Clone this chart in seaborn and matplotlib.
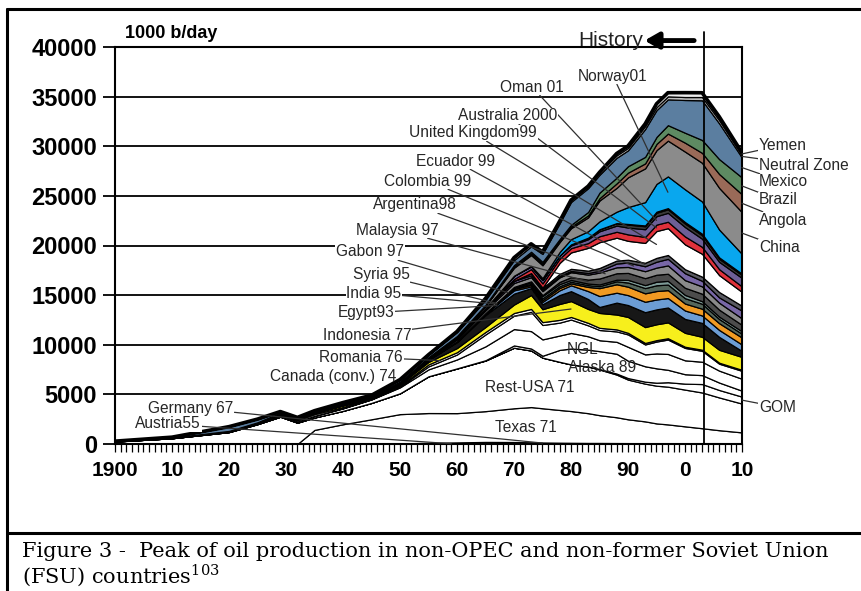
import numpy as np
import matplotlib
matplotlib.use("Agg")
import matplotlib.pyplot as plt
from matplotlib.lines import Line2D
import seaborn as sns

sns.set_theme(style="ticks")
plt.rcParams['font.family'] = ['Liberation Sans', 'DejaVu Sans']
plt.rcParams['mathtext.fontset'] = 'custom'
plt.rcParams['mathtext.rm'] = 'DejaVu Serif'

W, H = 861, 591
HISTORY_END = 2003.3

years = [1900, 1910, 1920, 1925, 1929, 1932, 1935, 1940, 1945, 1950, 1955, 1960, 1965, 1970,
         1973, 1975, 1978, 1980, 1983, 1985, 1988, 1990, 1993, 1995, 1997, 2000, 2003, 2006, 2010]

# 1000 b/day per producer, bottom of the stack first
austria = [0, 0, 0, 0, 0, 0, 10, 20, 20, 30, 60, 50, 50, 50, 40, 40, 30, 30, 25, 25, 20, 20, 20, 20, 20, 20, 20, 20, 20]
germany = [0, 0, 0, 0, 0, 0, 10, 20, 20, 30, 60, 110, 160, 150, 130, 110, 100, 90, 80, 80, 75, 70, 60, 55, 55, 60, 70, 70, 50]
texas = [0, 0, 0, 0, 0, 0, 1400, 1950, 2450, 2950, 3000, 2950, 3100, 3400, 3550, 3450, 3300, 3200, 3000, 2800, 2600, 2400, 2200, 2000, 1900, 1700, 1500, 1300, 1100]
rest_usa = [250, 580, 1200, 2000, 2750, 2150, 1250, 1350, 1650, 2100, 3700, 4500, 5100, 6100, 5700, 5100, 4850, 4700, 4700, 4600, 4300, 4000, 3800, 3800, 3800, 3700, 3600, 3300, 2900]
gom = [0, 0, 0, 0, 0, 0, 0, 0, 0, 0, 0, 0, 0, 0, 0, 0, 0, 0, 0, 50, 100, 150, 200, 300, 450, 600, 850, 750, 700]
alaska = [0, 0, 0, 0, 0, 0, 0, 0, 0, 0, 0, 10, 30, 230, 200, 190, 1200, 1600, 1700, 1800, 2000, 1750, 1550, 1450, 1250, 950, 900, 750, 600]
ngl = [0, 0, 30, 50, 100, 100, 150, 250, 350, 600, 700, 900, 1400, 1650, 1750, 1650, 1450, 1570, 1350, 1100, 1200, 1400, 1200, 1500, 1600, 1400, 1350, 1200, 1200]
canada = [2, 5, 5, 5, 10, 10, 20, 20, 20, 80, 300, 500, 1200, 1350, 1950, 1450, 1300, 1350, 1100, 1030, 1050, 1250, 1000, 1200, 1450, 1250, 1100, 700, 800]
romania = [20, 30, 20, 50, 100, 140, 170, 120, 90, 100, 200, 230, 250, 270, 290, 290, 280, 260, 250, 220, 200, 160, 150, 140, 130, 120, 110, 100, 100]
indonesia = [15, 30, 50, 60, 100, 100, 130, 170, 30, 130, 250, 420, 500, 850, 1400, 1300, 1600, 1600, 1400, 1500, 1500, 1600, 1600, 1600, 1600, 1400, 1300, 1300, 1300]
others_dark = [0, 0, 0, 0, 0, 0, 0, 0, 0, 50, 200, 600, 1200, 1100, 700, 500, 900, 1000, 1000, 600, 1200, 1200, 1500, 1500, 1500, 1400, 1400, 1300, 600]
egypt = [0, 0, 3, 3, 5, 5, 4, 20, 30, 45, 35, 60, 120, 330, 170, 240, 480, 590, 800, 1100, 1000, 1000, 1050, 1000, 950, 850, 750, 700, 650]
india = [0, 10, 6, 6, 6, 5, 6, 6, 6, 6, 8, 10, 60, 140, 150, 170, 230, 190, 420, 800, 850, 850, 850, 850, 800, 700, 680, 680, 700]
syria = [0, 0, 0, 0, 0, 0, 0, 0, 0, 0, 0, 0, 0, 80, 110, 190, 180, 170, 180, 200, 300, 420, 530, 580, 560, 540, 500, 420, 380]
gabon = [0, 0, 0, 0, 0, 0, 0, 0, 0, 0, 0, 15, 25, 110, 150, 220, 210, 180, 160, 170, 160, 270, 300, 360, 370, 330, 260, 240, 250]
malaysia = [0, 0, 0, 0, 0, 0, 0, 0, 0, 0, 0, 0, 0, 20, 100, 100, 220, 280, 400, 600, 650, 700, 700, 700, 720, 720, 750, 700, 650]
argentina = [0, 0, 5, 15, 25, 35, 40, 55, 65, 70, 90, 180, 270, 390, 420, 400, 460, 500, 500, 600, 600, 600, 700, 720, 840, 770, 740, 700, 650]
colombia = [0, 0, 0, 0, 55, 45, 50, 70, 60, 95, 110, 155, 200, 220, 190, 160, 140, 130, 160, 180, 380, 440, 500, 590, 660, 700, 560, 540, 780]
ecuador = [0, 0, 0, 0, 0, 0, 5, 5, 5, 5, 10, 8, 8, 5, 210, 160, 210, 210, 240, 280, 300, 290, 350, 390, 390, 400, 420, 540, 490]
uk = [0, 0, 0, 0, 0, 0, 0, 0, 0, 0, 0, 0, 0, 0, 10, 30, 1100, 1650, 2300, 2600, 2300, 1900, 2000, 2700, 2700, 2500, 2300, 1700, 1400]
australia = [0, 0, 0, 0, 0, 0, 0, 0, 0, 0, 0, 0, 10, 180, 400, 430, 440, 430, 480, 600, 600, 650, 600, 650, 650, 800, 700, 600, 550]
oman = [0, 0, 0, 0, 0, 0, 0, 0, 0, 0, 0, 0, 0, 330, 290, 340, 310, 280, 390, 500, 620, 690, 780, 850, 900, 950, 820, 740, 860]
others_mid = [0, 0, 0, 0, 0, 0, 0, 0, 0, 0, 0, 0, 0, 0, 0, 0, 0, 100, 150, 200, 250, 300, 300, 350, 350, 350, 350, 300, 300]
others_yel = [0, 0, 0, 0, 0, 0, 0, 0, 0, 0, 0, 0, 0, 0, 0, 0, 0, 0, 0, 0, 0, 60, 80, 100, 120, 150, 150, 150, 120]
norway = [0, 0, 0, 0, 0, 0, 0, 0, 0, 0, 0, 0, 0, 0, 30, 190, 350, 530, 650, 800, 1150, 1700, 2350, 2800, 3200, 3300, 3250, 2800, 2000]
china = [0, 0, 0, 0, 0, 0, 0, 0, 0, 0, 20, 100, 230, 800, 1100, 1300, 1000, 1100, 1400, 2100, 2400, 3000, 3400, 3400, 3600, 3800, 3900, 4200, 4200]
angola = [0, 0, 0, 0, 0, 0, 0, 0, 0, 0, 0, 1, 13, 100, 160, 160, 130, 150, 200, 230, 450, 470, 500, 630, 710, 900, 1000, 1400, 1800]
brazil = [0, 0, 0, 0, 0, 0, 0, 0, 0, 1, 6, 80, 95, 170, 170, 180, 170, 190, 340, 560, 580, 650, 660, 700, 850, 1000, 1300, 1500, 1700]
mexico = [0, 35, 430, 320, 120, 90, 110, 120, 120, 200, 250, 400, 500, 500, 550, 800, 1600, 2300, 2400, 1800, 2000, 1600, 2800, 2700, 2600, 3300, 4000, 3600, 2000]
neutral_zone = [0, 0, 0, 0, 0, 0, 0, 0, 0, 0, 0, 60, 150, 250, 250, 200, 200, 200, 200, 250, 250, 250, 300, 300, 300, 300, 330, 330, 250]
yemen = [0, 0, 0, 0, 0, 0, 0, 0, 0, 0, 0, 0, 0, 0, 0, 0, 0, 0, 0, 0, 180, 190, 220, 340, 370, 440, 430, 360, 250]

stack = [
    (austria, '#27356a'), (germany, '#1c2656'), (texas, 'white'), (rest_usa, 'white'),
    (gom, 'white'), (alaska, 'white'), (ngl, 'white'), (canada, 'white'), (romania, 'white'),
    (indonesia, '#f7ef1c'), (others_dark, '#171717'), (egypt, '#6c9dd4'), (india, '#f09a22'),
    (syria, '#55675b'), (gabon, '#7d9a96'), (malaysia, '#4c4c4c'), (argentina, '#8a8a8a'),
    (colombia, '#7867a6'), (ecuador, '#5a5a62'), (uk, 'white'), (australia, '#e0313b'),
    (oman, '#6d5f96'), (others_mid, '#3a3a3a'), (others_yel, '#e6d21c'), (norway, '#09a7ee'),
    (china, '#8b8b8b'), (angola, '#9a6a58'), (brazil, '#5e8a62'), (mexico, '#5b7ea0'),
    (neutral_zone, '#bdbdbd'), (yemen, '#ededed'),
]
values = np.array([s[0] for s in stack], dtype=float)
cum = np.cumsum(values, axis=0)
total = cum[-1]


def layer_mid(series, year):
    i = next(k for k, s in enumerate(stack) if s[0] is series)
    return np.interp(year, years, cum[i] - values[i] / 2)


fig = plt.figure(figsize=(W / 100, H / 100), dpi=100)
ax = fig.add_axes([115 / W, 1 - 444 / H, (742 - 115) / W, (444 - 47) / H])

ax.stackplot(years, values, colors=[s[1] for s in stack], edgecolor='black',
             linewidth=0.9, zorder=2)
sns.lineplot(x=years, y=total, color='black', lw=2.6, ax=ax, zorder=3)

ax.set_xlim(1900, 2010)
ax.set_ylim(0, 40000)
ax.set_axisbelow(True)
ax.yaxis.grid(True, color='black', lw=1.3)
ax.set_yticks(range(0, 40001, 5000))
ax.set_yticklabels([str(v) for v in range(0, 40001, 5000)], fontsize=17, fontweight='bold')
ax.set_xticks(range(1900, 2011, 10))
ax.set_xticklabels(['1900', '10', '20', '30', '40', '50', '60', '70', '80', '90', '0', '10'],
                   fontsize=15, fontweight='bold')
ax.set_xticks(range(1900, 2011), minor=True)
ax.tick_params(axis='y', length=9, width=1.3, color='black', pad=4, labelcolor='black')
ax.tick_params(axis='x', which='both', length=6, width=0.9, color='black', pad=6,
               labelcolor='black')
for sp in ax.spines.values():
    sp.set_color('black')
    sp.set_linewidth(1.5)
    sp.set_visible(True)

# history marker
ax.axvline(HISTORY_END, ymin=0, ymax=41500 / 40000, color='black', lw=1.3, clip_on=False, zorder=4)
ax.annotate('', xy=(1992.9, 40650), xytext=(2001.6, 40650), annotation_clip=False,
            arrowprops=dict(arrowstyle='-|>,head_length=0.7,head_width=0.4', lw=3.5,
                            color='black', shrinkA=0, shrinkB=0))
ax.text(1992.6, 40650, 'History', ha='right', va='center', fontsize=15, color='#222222')

label_font = dict(fontsize=11.2, color='#262626')
leader = dict(arrowstyle='-', color='#303030', lw=0.9, shrinkA=0, shrinkB=0)
box = dict(boxstyle='square,pad=0.05', fc='white', ec='none')

left_labels = [
    ('Norway01', norway, 1997, 613, 76),
    ('Oman 01', oman, 1995, 532, 87),
    ('Australia 2000', australia, 1995, 508, 116),
    ('United Kingdom99', uk, 1995, 473, 133),
    ('Ecuador 99', ecuador, 1993, 455, 161),
    ('Colombia 99', colombia, 1991, 428, 181),
    ('Argentina98', argentina, 1986, 415, 205),
    ('Malaysia 97', malaysia, 1983, 397, 230),
    ('Gabon 97', gabon, 1969, 370, 252),
    ('Syria 95', syria, 1967, 381, 275),
    ('India 95', india, 1967, 374, 293),
    ('Egypt93', egypt, 1967, 366, 313),
    ('Indonesia 77', indonesia, 1980, 367, 335),
    ('Romania 76', romania, 1957, 361, 357),
    ('Germany 67', germany, 1975, 191, 408),
    ('Austria55', austria, 1959, 168, 424),
]
for text, series, yr, px, py in left_labels:
    ax.annotate(text, xy=(yr, layer_mid(series, yr)), xytext=(px, H - py),
                textcoords='figure pixels', ha='center', va='center', bbox=box,
                arrowprops=leader, annotation_clip=False, zorder=6, **label_font)

right_labels = [
    ('Yemen', yemen, 145), ('Neutral Zone', neutral_zone, 165), ('Mexico', mexico, 182),
    ('Brazil', brazil, 200), ('Angola', angola, 220), ('China', china, 247), ('GOM', gom, 407),
]
for text, series, py in right_labels:
    ax.annotate(text, xy=(2010, layer_mid(series, 2010)), xytext=(759, H - py),
                textcoords='figure pixels', ha='left', va='center', bbox=box,
                arrowprops=leader, annotation_clip=False, zorder=6, **label_font)

plain_labels = [
    ('Canada (conv.) 74', 333, 377), ('Rest-USA 71', 530, 387), ('Texas 71', 526, 427),
    ('NGL', 583, 350), ('Alaska 89', 602, 368),
]
for text, px, py in plain_labels:
    fig.text(px / W, 1 - py / H, text, ha='center', va='center', zorder=6, **label_font)

fig.text(125 / W, 1 - 33 / H, '1000 b/day', fontsize=13, fontweight='bold', va='center',
         color='black')

# page frame and caption
for xs, ys in [([7 / W, 7 / W], [0, 1 - 9 / H]), ([7 / W, 1], [1 - 9 / H] * 2),
               ([7 / W, 1], [1 - 533 / H] * 2)]:
    fig.add_artist(Line2D(xs, ys, transform=fig.transFigure, color='black', lw=2.2))
cap = dict(fontsize=15, color='black', family=['DejaVu Serif'], va='baseline')
fig.text(22 / W, 1 - 557 / H,
         'Figure 3 -  Peak of oil production in non-OPEC and non-former Soviet Union', **cap)
fig.text(22 / W, 1 - 583 / H, '(FSU) countries$^{103}$', **cap)

fig.savefig('out.png', dpi=100, facecolor='white')
